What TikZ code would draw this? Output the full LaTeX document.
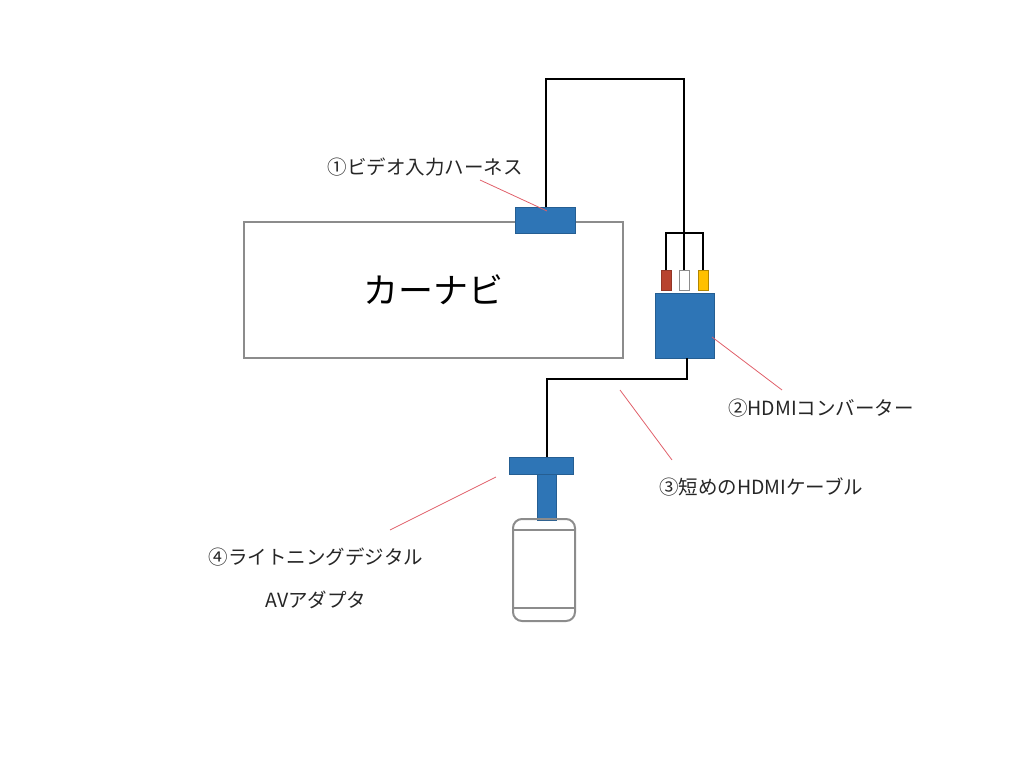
\documentclass[tikz,border=0pt]{standalone}
\usepackage{fontspec}
\setmainfont{Noto Sans CJK JP}
\definecolor{partblue}{HTML}{2E75B6}
\definecolor{leadred}{HTML}{E0606A}
\definecolor{rcared}{HTML}{B8432F}
\definecolor{rcayellow}{HTML}{FFC000}
\definecolor{boxgray}{HTML}{8C8C8C}

\begin{document}
\begin{tikzpicture}
  [x=1pt,y=-1pt,every node/.style={inner sep=0pt,outer sep=0pt},
   part/.style={fill=partblue,draw=partblue!80!black,line width=.4pt},
   rca/.style={minimum width=10pt,minimum height=20pt,line width=1pt},
   wire/.style={line width=2.2pt,black},
   lead/.style={line width=.8pt,leadred},
   label/.style={font=\fontsize{19.5}{22}\selectfont,text=black!85}]
  \useasboundingbox (0,0) rectangle (1024,768);

  \node[draw=boxgray,line width=1.5pt,minimum width=379pt,minimum height=136pt,
        font=\fontsize{35}{40}\selectfont] (navi) at (433.5,290) {カーナビ};
  \node[part,minimum width=60pt,minimum height=26pt] (harness) at (545,220) {};

  \node[part,minimum width=59pt,minimum height=65pt] (conv) at (685,325.5) {};
  \node[rca,fill=rcared,draw=rcared!80!black] (rcaR) at (666,280) {};
  \node[rca,fill=white,draw=boxgray] (rcaW) at (684,280) {};
  \node[rca,fill=rcayellow,draw=rcayellow!70!black] (rcaY) at (703,280) {};

  \node[part,minimum width=64pt,minimum height=17pt] (tbar) at (541,465.5) {};
  \node[part,minimum width=19pt,minimum height=46pt] (tstem) at (547,497) {};
  \node[draw=boxgray,line width=2pt,rounded corners=9pt,
        minimum width=62pt,minimum height=102pt] (phone) at (544,570) {};
  \draw[boxgray,line width=2pt] (phone.west |- 0,530) -- (phone.east |- 0,530);
  \draw[boxgray,line width=2pt] (phone.west |- 0,608) -- (phone.east |- 0,608);

  % wires
  \coordinate (split) at (684,233);
  \coordinate (bend) at (547,379);
  \draw[wire] (harness.north -| 546,0) |- (684,79) -- (split);
  \draw[wire] (rcaR.north) |- (split) -| (rcaY.north);
  \draw[wire] (split) -- (rcaW.north);
  \draw[wire] (conv.south -| 687,0) |- (bend) -- (bend |- tbar.north);

  % labels
  \node[label] (lab1) at (425,167) {①ビデオ入力ハーネス};
  \node[label] (lab2) at (821,408) {②HDMIコンバーター};
  \node[label] (lab3) at (761,487) {③短めのHDMIケーブル};
  \node[label] (lab4) at (316,557) {④ライトニングデジタル};
  \node[label] (lab4b) at (316,600) {AVアダプタ};

  \coordinate (p1) at (480,180);  \coordinate (q1) at (547,211);
  \coordinate (p2) at (782,390);  \coordinate (q2) at (712,337);
  \coordinate (p3) at (672,460);  \coordinate (q3) at (620,390);
  \coordinate (p4) at (390,530);  \coordinate (q4) at (496,477);
  \draw[lead] (p1) -- (q1);
  \draw[lead] (p2) -- (q2);
  \draw[lead] (p3) -- (q3);
  \draw[lead] (p4) -- (q4);

\end{tikzpicture}
\end{document}
